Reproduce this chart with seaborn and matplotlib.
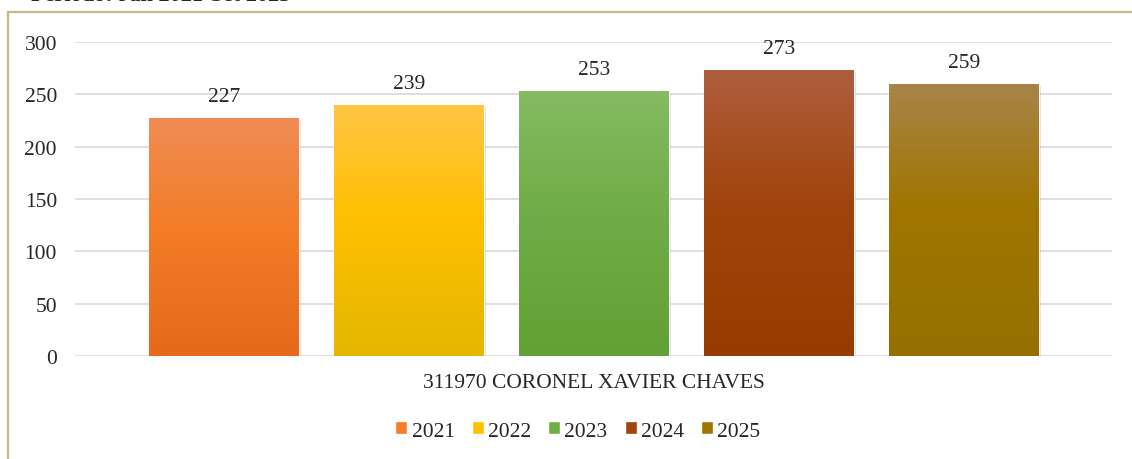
import numpy as np
import pandas as pd
import seaborn as sns
import matplotlib.pyplot as plt
from matplotlib.colors import LinearSegmentedColormap
from matplotlib.patches import Rectangle
import matplotlib.patheffects as pe

# dados
municipio = ['311970 CORONEL XAVIER CHAVES']
anos = ['2021', '2022', '2023', '2024', '2025']
valores = [227, 239, 253, 273, 259]

# cores (topo, meio, base) de cada barra - gradiente estilo office
cor_topo = ['#F08C55', '#FFC545', '#85BB63', '#AE5E3F', '#A8844A']
cor_meio = ['#F47D28', '#FFC000', '#70AD47', '#A0450E', '#A07600']
cor_base = ['#E46A19', '#E3B700', '#62A135', '#983B00', '#957000']

df = pd.DataFrame({'municipio': municipio * len(anos), 'ano': anos, 'valor': valores})

sns.set_style('white')
plt.rcParams['font.family'] = ['Liberation Serif', 'DejaVu Serif']

fig = plt.figure(figsize=(11.32, 4.6), dpi=100)
ax = fig.add_axes([75 / 1132, 1 - 357 / 460, (1112 - 75) / 1132, (357 - 43) / 460])

sns.barplot(data=df, x='municipio', y='valor', hue='ano', palette=cor_meio,
            saturation=1, width=1, gap=0.19, ax=ax, legend=True)

fs = 15.5
ax.set_ylim(0, 300)
ax.set_xlim(-0.561, 0.56)
ax.set_yticks(range(0, 301, 50))
ax.yaxis.grid(True, color='#D9D9D9', lw=1.2)
ax.set_axisbelow(True)
for s in ax.spines.values():
    s.set_visible(False)
ax.tick_params(axis='y', length=0, pad=13, labelsize=fs)
ax.tick_params(axis='x', length=0, pad=12, labelsize=fs)
ax.set_xlabel('')
ax.set_ylabel('')

# gradiente + sombra
for i, cont in enumerate(ax.containers):
    bar = cont[0]
    x0, y0 = bar.get_x(), bar.get_y()
    w, h = bar.get_width(), bar.get_height()
    bar.set_path_effects([pe.SimplePatchShadow(offset=(1.5, -1), shadow_rgbFace='#909090', alpha=0.3),
                          pe.Normal()])
    cmap = LinearSegmentedColormap.from_list('g%d' % i, [(0, cor_base[i]), (0.55, cor_meio[i]), (1, cor_topo[i])])
    grad = np.linspace(0, 1, 256).reshape(-1, 1)
    ax.imshow(grad, cmap=cmap, aspect='auto', origin='lower',
              extent=(x0, x0 + w, y0, y0 + h), zorder=bar.get_zorder() + 0.1)
    ax.bar_label(cont, padding=9, fontsize=fs)
ax.set_aspect('auto')
ax.set_xlim(-0.561, 0.56)
ax.set_ylim(0, 300)

leg = ax.legend(loc='center', bbox_to_anchor=(578 / 1132, 1 - 432 / 460), bbox_transform=fig.transFigure,
                ncol=5, frameon=False, fontsize=fs, handlelength=0.55, handleheight=0.55,
                handletextpad=0.2, columnspacing=0.8, borderaxespad=0)

# moldura dourada e titulo cortado
fig.patches.append(Rectangle((8 / 1132, -0.1), 1.2, 1 - 13 / 460 + 0.1, transform=fig.transFigure,
                             fill=False, ec='#C6B78A', lw=1.6, zorder=0))
fig.text(290 / 1132, 1 + 4 / 460, 'Período: Jan 2021-Set 2025', ha='right', va='center',
         fontsize=16, fontweight='bold')

fig.savefig('out.png', dpi=100)
